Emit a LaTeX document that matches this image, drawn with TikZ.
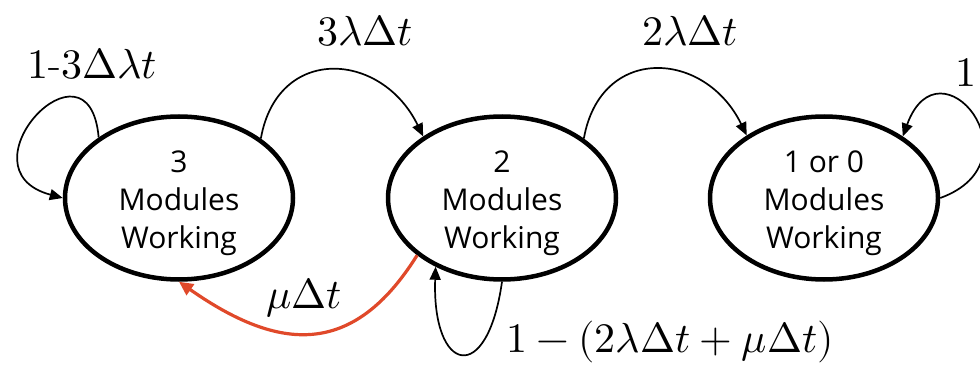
\documentclass[tikz,border=0pt]{standalone}
\usepackage{fontspec}
\usepackage{unicode-math}
\setmathfont{Latin Modern Math}
\setsansfont{Open Sans}
\usetikzlibrary{arrows.meta,shapes.geometric}
\definecolor{redarr}{HTML}{E0492A}
\begin{document}
\begin{tikzpicture}[x=1pt,y=1pt,
 state/.style={ellipse, draw, line width=4.5pt, minimum width=228pt, minimum height=163pt, inner sep=0pt},
 statetext/.style={align=center, inner sep=0pt, font=\sffamily\fontsize{30}{38}\selectfont},
 arr/.style={line width=1.7pt, -{Triangle[length=13pt,width=11pt]}},
 redarrow/.style={draw=redarr, line width=3.2pt, -{Triangle[length=14pt,width=13pt]}},
 lab/.style={inner sep=0pt, font=\fontsize{42}{50}\selectfont}]
\useasboundingbox (0,0) rectangle (980,365);
\clip (0,0) rectangle (980,365);
\node[state] (e1) at (179,167) {};
\node[state] (e2) at (502,167) {};
\node[state] (e3) at (824,167) {};
\node[statetext] (t1) at ([yshift=-5pt]e1.center) {3\\Modules\\Working};
\node[statetext] (t2) at ([yshift=-5pt]e2.center) {2\\Modules\\Working};
\node[statetext] (t3) at ([yshift=-5pt]e3.center) {1 or 0\\Modules\\Working};
\node[lab] (l1) at (92,301) {$1\text{-}3\Delta\lambda t$};
\node[lab] (l2) at (365,334) {$3\lambda\Delta t$};
\node[lab] (l3) at (690,334) {$2\lambda\Delta t$};
\node[lab] (l4) at (966,292) {$1$};
\node[lab] (l5) at (304,67) {$\mu\Delta t$};
\node[lab] (l6) at (670,23) {$1-(2\lambda\Delta t+\mu\Delta t)$};
\draw[arr] (e1.143) to[out=95,in=165,looseness=4] (e1.180);
\draw[arr] (e1.36) to[out=80,in=116,looseness=1.5] (e2.142);
\draw[arr] (e2.36) to[out=80,in=116,looseness=1.5] (e3.141);
\draw[arr] (e3.0) to[out=20,in=70,looseness=3.8] (e3.38);
\draw[arr] (e2.270) to[out=262,in=268,looseness=4] (e2.226);
\draw[redarrow] (e2.214) to[out=238,in=325,looseness=1.3] (e1.270);
\end{tikzpicture}
\end{document}
